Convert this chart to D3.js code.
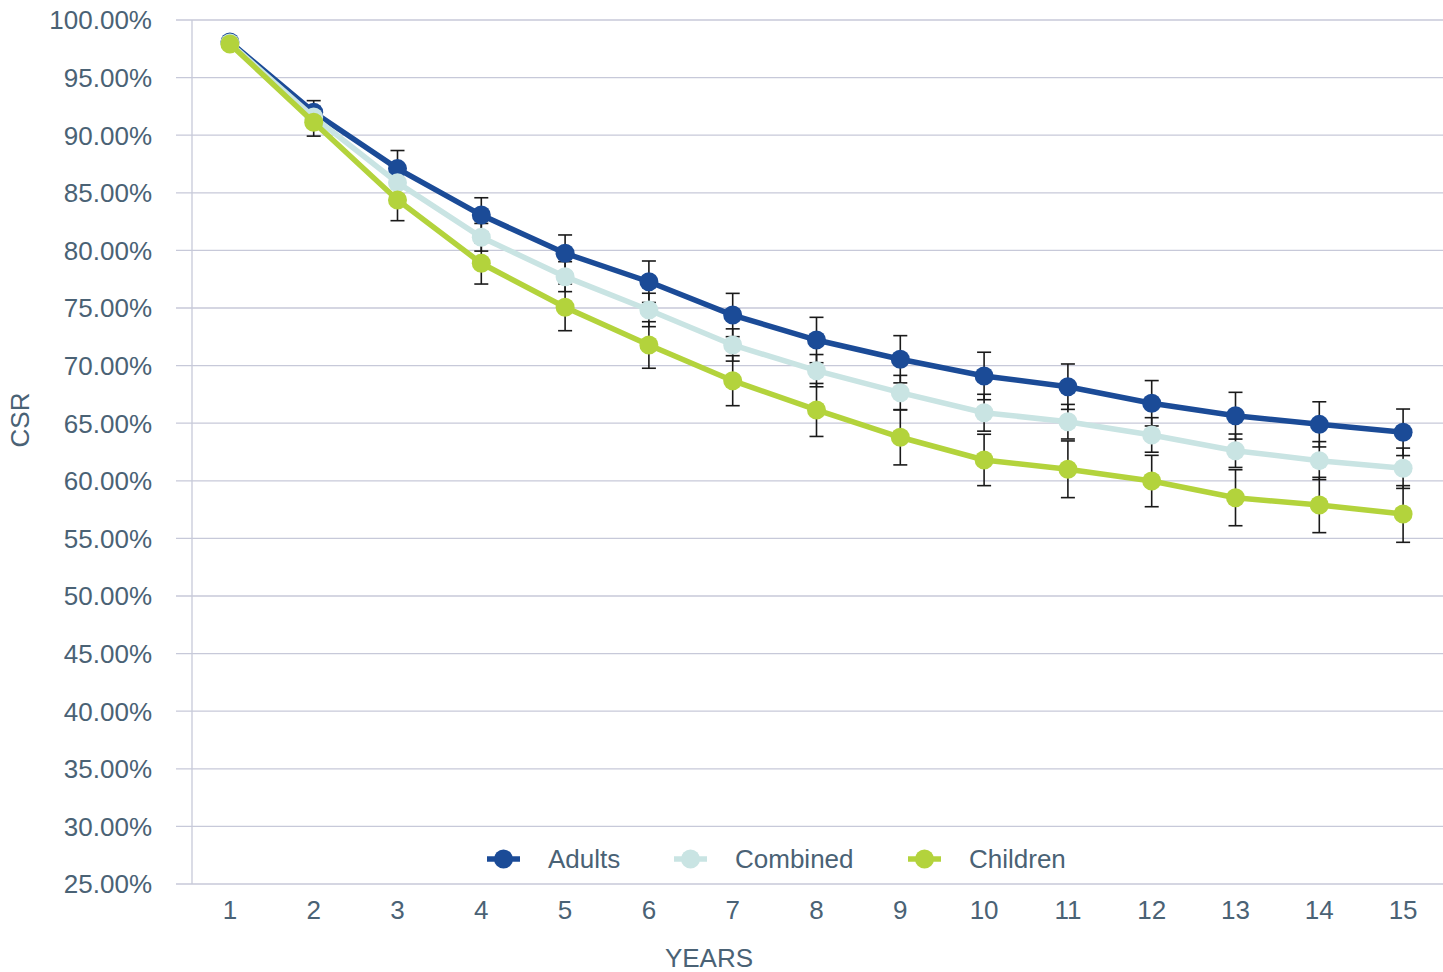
<!DOCTYPE html>
<html>
<head>
<meta charset="utf-8">
<script src="https://cdn.jsdelivr.net/npm/d3@7"></script>
<style>
  body { margin: 0; background: #fff; }
  text { font-family: "Liberation Sans", Arial, sans-serif; fill: #4a6275; }
</style>
</head>
<body>
<div id="chart"></div>
<script>
// data
var years = [1, 2, 3, 4, 5, 6, 7, 8, 9, 10, 11, 12, 13, 14, 15];
var adults   = [98.1, 92.0, 87.1, 83.07, 79.75, 77.28, 74.39, 72.22, 70.55, 69.10, 68.17, 66.73, 65.65, 64.90, 64.21];
var combined = [98.0, 91.58, 85.88, 81.14, 77.72, 74.83, 71.79, 69.56, 67.65, 65.91, 65.13, 63.98, 62.61, 61.75, 61.09];
var children = [97.92, 91.12, 84.38, 78.88, 75.06, 71.79, 68.69, 66.15, 63.78, 61.81, 61.0, 59.98, 58.53, 57.90, 57.12];
var adultsErr   = [0.2, 1.0, 1.57, 1.5, 1.59, 1.8, 1.88, 1.97, 2.05, 2.06, 1.97, 1.97, 2.03, 1.96, 2.02];
var combinedErr = [0.2, 0.9, 1.3, 1.2, 1.3, 1.45, 1.4, 1.4, 1.5, 1.6, 1.5, 1.5, 1.45, 1.65, 1.75];
var childrenErr = [0.3, 1.2, 1.8, 1.8, 2.03, 2.02, 2.17, 2.3, 2.4, 2.23, 2.46, 2.23, 2.43, 2.4, 2.46];
var yTicks = [25, 30, 35, 40, 45, 50, 55, 60, 65, 70, 75, 80, 85, 90, 95, 100];

var series = [
  {name: "Adults", values: adults, err: adultsErr, color: "#1b4b97"},
  {name: "Combined", values: combined, err: combinedErr, color: "#c9e4e3"},
  {name: "Children", values: children, err: childrenErr, color: "#b3d33c"}
];

var width = 1443, height = 972;
var svg = d3.select("#chart").append("svg")
    .attr("width", width)
    .attr("height", height);

// scales
var x = d3.scaleBand().domain(years).range([188, 1445]);
var y = d3.scaleLinear().domain([25, 100]).range([884, 20]);

// gridlines
svg.append("g")
  .selectAll("line")
  .data(yTicks)
  .enter().append("line")
    .attr("x1", 176)
    .attr("x2", width)
    .attr("y1", function(d) { return y(d); })
    .attr("y2", function(d) { return y(d); })
    .attr("stroke", "#c7c9d9")
    .attr("stroke-width", 1.3);

// y axis line
svg.append("line")
    .attr("x1", 192).attr("x2", 192)
    .attr("y1", y(100)).attr("y2", y(25))
    .attr("stroke", "#c7c9d9")
    .attr("stroke-width", 1.3);

// y tick labels
svg.append("g")
  .selectAll("text")
  .data(yTicks)
  .enter().append("text")
    .attr("x", 152)
    .attr("y", function(d) { return y(d); })
    .attr("dy", "0.36em")
    .attr("text-anchor", "end")
    .style("font-size", "26px")
    .text(function(d) { return d.toFixed(2) + "%"; });

// x tick labels
svg.append("g")
  .selectAll("text")
  .data(years)
  .enter().append("text")
    .attr("x", function(d) { return x(d) + x.bandwidth() / 2; })
    .attr("y", 919)
    .attr("text-anchor", "middle")
    .style("font-size", "26px")
    .text(function(d) { return d; });

// axis titles
svg.append("text")
    .attr("x", 709)
    .attr("y", 967)
    .attr("text-anchor", "middle")
    .style("font-size", "26px")
    .text("YEARS");

svg.append("text")
    .attr("transform", "translate(29,420) rotate(-90)")
    .attr("text-anchor", "middle")
    .style("font-size", "26px")
    .text("CSR");

var cx = function(i) { return x(years[i]) + x.bandwidth() / 2; };

// error bars
series.forEach(function(s) {
  var g = svg.append("g").attr("stroke", "#1a1a1a").attr("stroke-width", 1.6);
  s.values.forEach(function(v, i) {
    var top = y(v + s.err[i]), bot = y(v - s.err[i]);
    g.append("line").attr("x1", cx(i)).attr("x2", cx(i)).attr("y1", top).attr("y2", bot);
    g.append("line").attr("x1", cx(i) - 7).attr("x2", cx(i) + 7).attr("y1", top).attr("y2", top);
    g.append("line").attr("x1", cx(i) - 7).attr("x2", cx(i) + 7).attr("y1", bot).attr("y2", bot);
  });
});

// lines and markers
var line = d3.line()
    .x(function(d, i) { return cx(i); })
    .y(function(d) { return y(d); });

series.forEach(function(s) {
  svg.append("path")
      .datum(s.values)
      .attr("fill", "none")
      .attr("stroke", s.color)
      .attr("stroke-width", 5.5)
      .attr("d", line);
  svg.append("g")
    .selectAll("circle")
    .data(s.values)
    .enter().append("circle")
      .attr("cx", function(d, i) { return cx(i); })
      .attr("cy", function(d) { return y(d); })
      .attr("r", 9.5)
      .attr("fill", s.color);
});

// legend
var legendX = [487, 674, 908];
var legend = svg.append("g");
series.forEach(function(s, i) {
  var g = legend.append("g").attr("transform", "translate(" + legendX[i] + ",859)");
  g.append("line").attr("x1", 0).attr("x2", 33).attr("y1", 0).attr("y2", 0)
    .attr("stroke", s.color).attr("stroke-width", 5.5);
  g.append("circle").attr("cx", 16.5).attr("cy", 0).attr("r", 9.5).attr("fill", s.color);
  g.append("text").attr("x", 61).attr("y", 0).attr("dy", "0.36em")
    .style("font-size", "26px").text(s.name);
});
</script>
</body>
</html>
